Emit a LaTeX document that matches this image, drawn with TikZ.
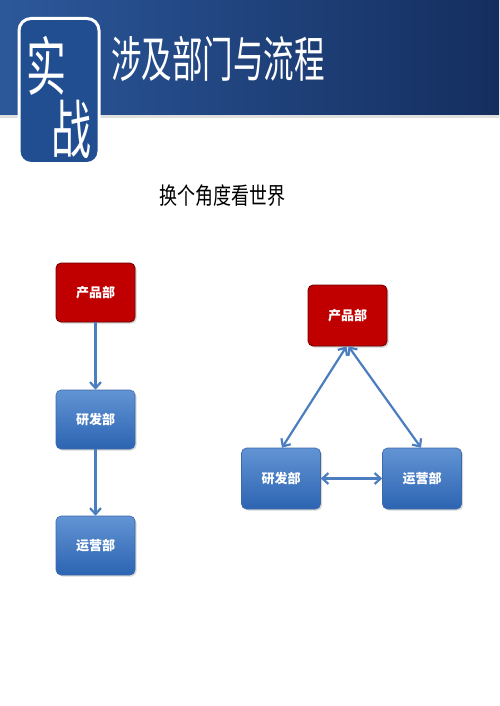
\documentclass[tikz,border=0pt]{standalone}
\usepackage{fontspec}
\setmainfont{Noto Sans CJK SC}
\newfontfamily\cjkb{Noto Sans CJK SC}[BoldFont={* Bold}]
\usetikzlibrary{arrows.meta,shadows}
\definecolor{navyL}{RGB}{44,88,155}
\definecolor{navyR}{RGB}{20,46,95}
\definecolor{boxblue}{RGB}{33,78,145}
\definecolor{arrowblue}{RGB}{74,126,192}
\definecolor{redbox}{RGB}{192,0,0}
\definecolor{redline}{RGB}{110,0,0}
\definecolor{blueT}{RGB}{98,148,212}
\definecolor{blueB}{RGB}{44,100,178}
\definecolor{blueline}{RGB}{60,105,170}
\tikzset{
  x=1pt,y=-1pt,
  dept/.style={rounded corners=5pt,minimum width=79pt,minimum height=59pt,
    text=white,font=\bfseries\fontsize{13}{13}\selectfont,inner sep=0pt},
  redept/.style={dept,fill=redbox,draw=redline,line width=0.8pt,
    drop shadow={opacity=0.35,shadow xshift=1.5pt,shadow yshift=-1.5pt}},
  bluedept/.style={dept,top color=blueT,bottom color=blueB,draw=blueline,line width=0.6pt,
    drop shadow={opacity=0.3,shadow xshift=1.5pt,shadow yshift=-1.5pt}},
  flow/.style={draw=arrowblue,line width=2.2pt,-{Straight Barb[length=6pt,width=11pt]}},
  bothflow/.style={draw=arrowblue,line width=2.2pt,{Straight Barb[length=6pt,width=11pt]}-{Straight Barb[length=6pt,width=11pt]}},
}
\begin{document}
\begin{tikzpicture}
\useasboundingbox (0,0) rectangle (499,706);
\fill[white] (0,0) rectangle (499,706);
% header band
\fill[gray!25] (0,113) rectangle (499,118);
\shade[left color=navyL,right color=navyR] (0,0) rectangle (499,115);
% title box
\node[draw=white,line width=3pt,fill=boxblue,rounded corners=12pt,
  minimum width=80pt,minimum height=145pt,inner sep=0pt] (tag) at (59,91) {};
\node[text=white,font=\fontsize{40}{40}\selectfont,inner sep=0pt] (shi) at (47,66) {\scalebox{1}[1.6]{实}};
\node[text=white,font=\fontsize{40}{40}\selectfont,inner sep=0pt] (zhan) at (71,129) {\scalebox{1}[1.6]{战}};
\node[text=white,font=\fontsize{30.5}{30}\selectfont,inner sep=0pt,anchor=west] (title) at (111,59) {\scalebox{1}[1.6]{涉及部门与流程}};
% subtitle
\node[text=black,font=\fontsize{18}{18}\selectfont,inner sep=0pt] (sub) at (222,196) {\scalebox{1}[1.3]{换个角度看世界}};
% left column
\node[redept] (p1) at (95.5,292.5) {产品部};
\node[bluedept] (r1) at (95.5,419.5) {研发部};
\node[bluedept] (o1) at (95.5,545.5) {运营部};
\draw[flow] (p1.south) -- (r1.north);
\draw[flow] (r1.south) -- (o1.north);
% right triangle
\node[redept,minimum height=61pt] (p2) at (347.5,315.5) {产品部};
\node[bluedept,minimum height=61pt] (r2) at (281,478.5) {研发部};
\node[bluedept,minimum height=61pt] (o2) at (422,478.5) {运营部};
\draw[bothflow] ([xshift=-1pt]p2.south) -- ([xshift=1pt]r2.north);
\draw[bothflow] ([xshift=1pt]p2.south) -- ([xshift=-1pt]o2.north);
\draw[bothflow] (r2.east) -- (o2.west);
\end{tikzpicture}
\end{document}
